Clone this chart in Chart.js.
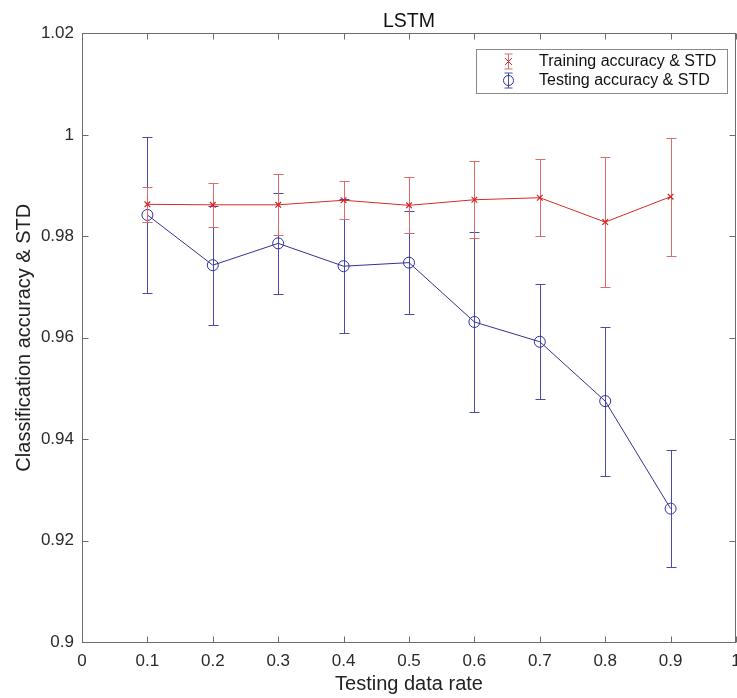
<!DOCTYPE html>
<html><head><meta charset="utf-8">
<script src="https://cdn.jsdelivr.net/npm/chart.js@4"></script>
<style>html,body{margin:0;padding:0;background:#fff}</style>
</head><body>
<canvas id="c" width="737" height="698"></canvas>
<script>
const rates = [0.1, 0.2, 0.3, 0.4, 0.5, 0.6, 0.7, 0.8, 0.9];
const trainAcc = [0.9863, 0.9862, 0.9862, 0.9871, 0.9861, 0.9872, 0.9876, 0.9828, 0.9878];
const trainStd = [0.0035, 0.0043, 0.0060, 0.0037, 0.0055, 0.0076, 0.0076, 0.0128, 0.0116];
const testAcc  = [0.9842, 0.9743, 0.9786, 0.9741, 0.9748, 0.9631, 0.9592, 0.9475, 0.9263];
const testStd  = [0.0153, 0.0117, 0.0099, 0.0132, 0.0101, 0.0178, 0.0113, 0.0147, 0.0116];
const xTicks = [0, 0.1, 0.2, 0.3, 0.4, 0.5, 0.6, 0.7, 0.8, 0.9, 1];
const yTicks = [0.9, 0.92, 0.94, 0.96, 0.98, 1, 1.02];
const seriesLabels = ['Training accuracy & STD', 'Testing accuracy & STD'];
const chartTitle = 'LSTM';
const xTitle = 'Testing data rate';
const yTitle = 'Classification accuracy & STD';

const FONT = "'Liberation Sans', Arial, sans-serif";
const AXIS = '#6b6b6b';
const TXT = '#2a2a2a';

const fmt = v => String(+(+v).toFixed(2));

const errPlugin = {
  id: 'errbars',
  beforeDatasetDraw(chart, args) {
    const ds = chart.data.datasets[args.index];
    const xs = chart.scales.x, ys = chart.scales.y, ctx = chart.ctx;
    ctx.save();
    ctx.strokeStyle = ds.errColor; ctx.lineWidth = 1;
    ds.data.forEach((p, i) => {
      const e = ds.errs[i];
      const px = Math.round(xs.getPixelForValue(p.x)) + 0.5;
      const y1 = Math.round(ys.getPixelForValue(p.y + e)) + 0.5;
      const y2 = Math.round(ys.getPixelForValue(p.y - e)) + 0.5;
      ctx.beginPath();
      ctx.moveTo(px, y1); ctx.lineTo(px, y2);
      ctx.moveTo(px - 5, y1); ctx.lineTo(px + 5, y1);
      ctx.moveTo(px - 5, y2); ctx.lineTo(px + 5, y2);
      ctx.stroke();
    });
    ctx.restore();
  },
  afterDraw(chart) {
    const {ctx, chartArea: a} = chart;
    const xs = chart.scales.x, ys = chart.scales.y;
    const L = Math.round(a.left) + 0.5, R = Math.round(a.right) - 0.5;
    const T = Math.round(a.top) + 0.5, B = Math.round(a.bottom) + 0.5;
    ctx.save();
    ctx.strokeStyle = AXIS; ctx.lineWidth = 1;
    ctx.strokeRect(L, T, R - L, B - T);
    ctx.beginPath();
    const tl = 6;
    xTicks.forEach(v => {
      const px = Math.round(xs.getPixelForValue(v)) + 0.5;
      ctx.moveTo(px, B); ctx.lineTo(px, B - tl);
      ctx.moveTo(px, T); ctx.lineTo(px, T + tl);
    });
    yTicks.forEach(v => {
      const py = Math.round(ys.getPixelForValue(v)) + 0.5;
      ctx.moveTo(L, py); ctx.lineTo(L + tl, py);
      ctx.moveTo(R, py); ctx.lineTo(R - tl, py);
    });
    ctx.stroke();

    // legend
    const bx = 476.5, by = 49.5, bw = 251, bh = 44;
    ctx.fillStyle = '#fff';
    ctx.fillRect(bx, by, bw, bh);
    ctx.strokeStyle = '#8a8a8a';
    ctx.strokeRect(bx, by, bw, bh);
    const rows = [61.5, 80.5];
    chart.data.datasets.forEach((ds, i) => {
      const cy = rows[i], sx = 508.5;
      ctx.strokeStyle = ds.errColor;
      ctx.beginPath();
      ctx.moveTo(sx, cy - 7.5); ctx.lineTo(sx, cy + 7.5);
      ctx.moveTo(sx - 4, cy - 7.5); ctx.lineTo(sx + 4, cy - 7.5);
      ctx.moveTo(sx - 4, cy + 7.5); ctx.lineTo(sx + 4, cy + 7.5);
      ctx.stroke();
      ctx.strokeStyle = ds.borderColor;
      ctx.beginPath();
      if (i === 0) {
        ctx.moveTo(sx - 3.5, cy - 3.5); ctx.lineTo(sx + 3.5, cy + 3.5);
        ctx.moveTo(sx + 3.5, cy - 3.5); ctx.lineTo(sx - 3.5, cy + 3.5);
      } else {
        ctx.arc(sx, cy, 5, 0, Math.PI * 2);
      }
      ctx.stroke();
      ctx.fillStyle = '#111';
      ctx.font = '16px ' + FONT;
      ctx.textBaseline = 'middle';
      ctx.textAlign = 'left';
      ctx.fillText(ds.label, 539, cy);
    });
    ctx.restore();
  }
};

const mk = (xs, ys) => xs.map((x, i) => ({x, y: ys[i]}));

new Chart(document.getElementById('c'), {
  type: 'scatter',
  data: {
    datasets: [
      {
        label: seriesLabels[0],
        data: mk(rates, trainAcc),
        errs: trainStd,
        errColor: '#df6a6a',
        showLine: true,
        borderColor: '#d42c2c',
        backgroundColor: 'transparent',
        borderWidth: 1,
        pointStyle: 'crossRot',
        pointRadius: 4,
        pointBorderWidth: 1.2,
        pointBorderColor: '#d42020',
        clip: false
      },
      {
        label: seriesLabels[1],
        data: mk(rates, testAcc),
        errs: testStd,
        errColor: '#4a4aad',
        showLine: true,
        borderColor: '#32328f',
        backgroundColor: 'transparent',
        borderWidth: 1,
        pointStyle: 'circle',
        pointRadius: 5.5,
        pointBorderWidth: 1,
        pointBorderColor: '#2e2e9a',
        pointBackgroundColor: 'transparent',
        clip: false
      }
    ]
  },
  options: {
    responsive: false,
    animation: false,
    devicePixelRatio: 1,
    layout: {autoPadding: false, padding: {left: 0, right: 1, top: 0, bottom: 0}},
    plugins: {
      legend: {display: false},
      tooltip: {enabled: false},
      title: {
        display: true, fullSize: false, text: chartTitle, color: '#111',
        font: {family: FONT, size: 19.5, weight: 'normal'},
        padding: {top: 10, bottom: 0}
      }
    },
    scales: {
      x: {
        type: 'linear', min: 0, max: 1,
        afterBuildTicks: s => { s.ticks = xTicks.map(v => ({value: v})); },
        afterFit: s => { s.height = 56; s.paddingLeft = 0; s.paddingRight = 0; },
        grid: {display: false, drawTicks: false},
        border: {display: false},
        ticks: {color: TXT, font: {family: FONT, size: 17}, padding: 9, maxRotation: 0, autoSkip: false, callback: v => fmt(v)},
        title: {display: true, text: xTitle, color: '#222', font: {family: FONT, size: 20}, padding: {top: 0, bottom: 2}}
      },
      y: {
        type: 'linear', min: 0.9, max: 1.02,
        afterBuildTicks: s => { s.ticks = yTicks.map(v => ({value: v})); },
        afterFit: s => { s.width = 82; s.paddingTop = 0; s.paddingBottom = 0; },
        grid: {display: false, drawTicks: false},
        border: {display: false},
        ticks: {color: TXT, font: {family: FONT, size: 17}, padding: 8, autoSkip: false, callback: v => fmt(v)},
        title: {display: true, text: yTitle, color: '#222', font: {family: FONT, size: 20}, padding: {top: 12, bottom: 0}}
      }
    }
  },
  plugins: [errPlugin]
});
</script>
</body></html>
